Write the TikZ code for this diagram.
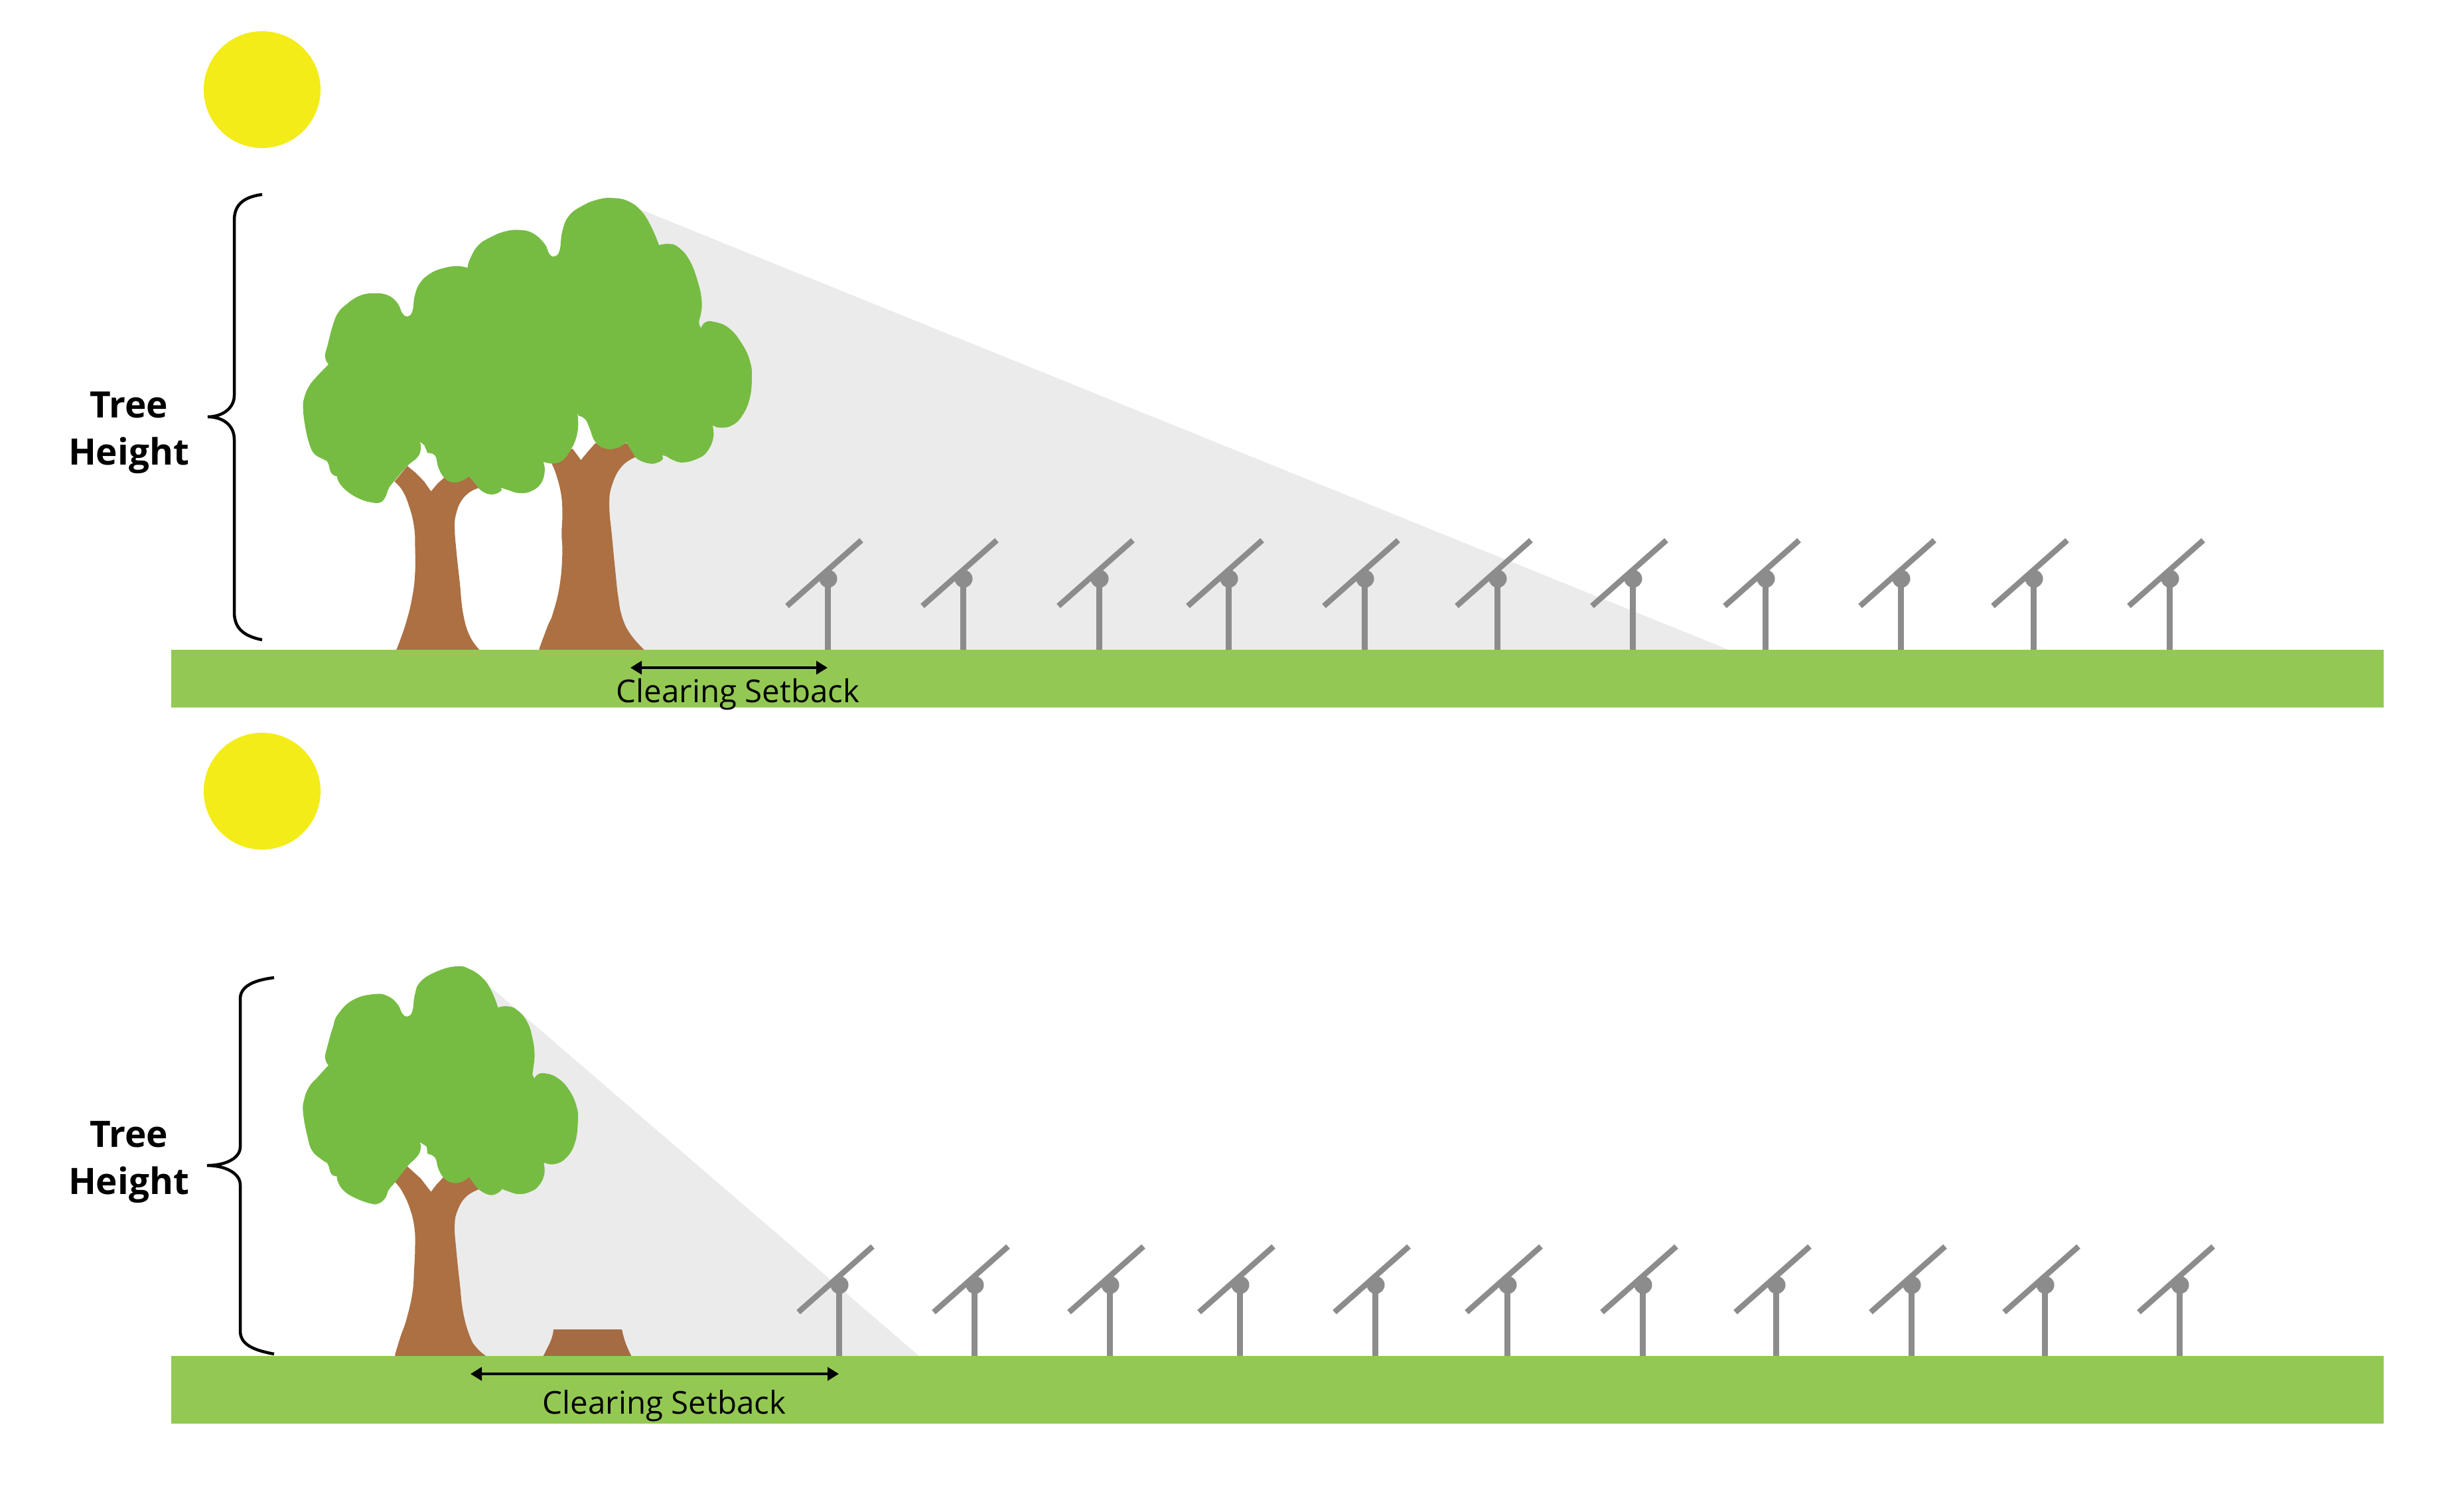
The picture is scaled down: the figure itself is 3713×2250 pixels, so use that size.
\documentclass[tikz,border=0pt]{standalone}
\usepackage{fontspec}
\setmainfont{Open Sans}
\usetikzlibrary{arrows.meta, positioning}

\definecolor{sungold}{HTML}{F3EC19}
\definecolor{leafgreen}{HTML}{76BC43}
\definecolor{lawngreen}{HTML}{93C953}
\definecolor{barkbrown}{HTML}{AC7043}
\definecolor{stumpbrown}{HTML}{A56B42}
\definecolor{shadowgray}{HTML}{EBEBEB}
\definecolor{rackgray}{HTML}{8C8C8C}

\tikzset{
	sunball/.style={circle, fill=sungold, minimum size=.01cm*176, inner sep=0pt},
	setbackarrow/.style={{Triangle[length=.17cm, width=.2cm]}-{Triangle[length=.17cm, width=.2cm]}, line width=.035cm},
	setbacklabel/.style={anchor=base, font=\fontsize{13.5}{15}\selectfont, inner sep=0pt},
	heightlabel/.style={align=center, font=\fontsize{15.6}{20.2}\selectfont\bfseries, inner sep=0pt},
	bracket/.style={line width=.045cm},
	outline/.style={smooth, tension=.75},
	tracker/.pic={
		\draw[rackgray, line width=.09cm] (0,0) -- (0,-107);
		\draw[rackgray, line width=.085cm] (-61,-66) -- (51,-165);
		\fill[rackgray] (1,-107) circle (13.5);
	}
}

\begin{document}
\begin{tikzpicture}[x=.01cm, y=-.01cm]
	\useasboundingbox (0,0) rectangle (3713,2250);

	% upper panel
	\node[sunball] (sunA) at (395,135) {};
	\fill[shadowgray] (961,314) -- (2605,979) -- (905,979) -- (905,600) -- cycle;
	\foreach \postx in {1247,1451,1656,1851,2056,2256,2460,2660,2864,3064,3269}
		\pic at (\postx,979) {tracker};
	\begin{scope}[shift={(420,270)}, x=.005102cm, y=-.00523cm]
		\fill[barkbrown] plot[outline] coordinates {(595,1356) (565,1315) (545,1250) (535,1160) (525,1070) (520,1000) (525,960) (540,925) (565,900) (592,888)}
			-- (563,855) -- (490,858) -- (470,875) -- (450,898) -- (430,870) -- (405,845) -- (380,825) -- (342,870)
			-- plot[outline] coordinates {(342,870) (365,895) (385,940) (400,1000) (403,1060) (403,1130) (395,1200) (375,1280) (347,1356)} -- cycle;
		\fill[barkbrown] plot[outline] coordinates {(1082,1356) (1040,1310) (1015,1260) (1003,1200) (995,1130) (985,1030) (977,940) (985,880) (1015,825) (1058,798)}
			-- (1030,760) -- (935,760) -- (915,782) -- (893,808) -- (868,775) -- (805,815)
			-- plot[outline] coordinates {(805,815) (820,850) (835,910) (838,970) (836,1020) (838,1080) (830,1170) (810,1250) (795,1285) (770,1350)} -- (770,1356) -- cycle;
		\fill[leafgreen] plot[outline] coordinates {(147,533) (137,510) (145,475) (160,420) (175,385) (200,360) (240,335) (285,328) (325,335) (352,358) (365,385) (380,395) (395,380) (402,335) (418,298) (450,270) (490,255) (530,250) (558,255)}
			-- plot[outline] coordinates {(558,255) (565,230) (590,190) (630,165) (670,150) (710,146) (750,155) (785,185) (800,215) (815,222) (830,205) (838,150) (858,105) (900,75) (945,58) (985,54) (1030,62) (1070,90) (1100,135) (1124,190)}
			-- plot[outline] coordinates {(1124,190) (1150,186) (1180,195) (1215,235) (1240,300) (1250,350) (1248,385) (1242,412) (1248,428)}
			-- plot[outline] coordinates {(1248,428) (1260,412) (1285,410) (1330,428) (1370,475) (1393,525) (1398,570) (1392,630) (1370,680) (1340,708) (1305,715) (1282,708)}
			-- plot[outline] coordinates {(1282,708) (1284,745) (1265,785) (1235,805) (1195,815) (1165,808) (1145,797) (1132,795)}
			-- plot[outline] coordinates {(1132,795) (1135,805) (1120,815) (1095,818) (1060,805) (1045,785) (1027,757)}
			-- plot[outline] coordinates {(1027,757) (1000,773) (965,775) (935,755) (918,715) (905,690) (885,680)}
			-- (880,660) -- plot[outline] coordinates {(880,660) (885,700) (880,740) (865,775) (840,808) (810,818) (782,813)}
			-- plot[outline] coordinates {(782,813) (786,840) (775,875) (745,898) (710,903) (680,895) (655,887)}
			-- plot[outline] coordinates {(655,887) (657,897) (630,907) (600,897) (580,875) (563,855)}
			-- plot[outline] coordinates {(563,855) (540,868) (515,872) (490,860) (472,830) (462,795) (440,788)}
			-- (430,765) -- (417,755)
			-- plot[outline] coordinates {(417,755) (420,775) (410,800) (380,825) (340,870) (325,890) (315,915) (300,930) (275,930) (240,920) (205,900) (180,875) (172,855)}
			-- plot[outline] coordinates {(172,855) (155,845) (145,815) (130,805) (105,790) (90,760) (78,710) (72,660) (75,630) (90,595) (115,565) (147,533)} -- cycle;
	\end{scope}
	\fill[lawngreen] (258,979) rectangle (3592,1066);
	\draw[bracket] (395,293) .. controls (365,297) and (353,310) .. (353,332) -- (353,596) .. controls (353,615) and (335,628) .. (313,628) .. controls (335,628) and (353,640) .. (353,662) -- (353,922) .. controls (353,945) and (365,958) .. (395,964);
	\node[heightlabel] (heightA) at (194,652) {Tree\\Height};
	\coordinate (setbackAl) at (950,1006);
	\coordinate (setbackAr) at (1247,1006);
	\draw[setbackarrow] (setbackAl) -- (setbackAr);
	\node[setbacklabel] (clearA) at (1112,1058) {Clearing Setback};

	% lower panel
	\node[sunball] (sunB) at (395,1192) {};
	\fill[shadowgray] (739,1487) -- (1385,2043) -- (675,2043) -- (675,1856) -- (690,1793) -- (690,1565) -- cycle;
	\foreach \postx in {1264,1468,1672,1868,2072,2271,2475,2676,2880,3081,3284}
		\pic at (\postx,2043) {tracker};
	\begin{scope}[shift={(420,1419)}, x=.005102cm, y=-.004847cm]
		\fill[stumpbrown] plot[outline] coordinates {(782,1285) (805,1235) (812,1203)} -- (1014,1203)
			-- plot[outline] coordinates {(1014,1203) (1025,1245) (1042,1285)} -- cycle;
		\fill[barkbrown] plot[outline] coordinates {(612,1285) (585,1260) (565,1225) (545,1150) (535,1060) (525,960) (520,880) (530,830) (555,790) (592,768)}
			-- (563,730) -- (487,730) -- (465,755) -- (450,776) -- (420,735) -- (380,697) -- (343,745)
			-- plot[outline] coordinates {(343,745) (362,770) (385,820) (400,880) (403,940) (400,1020) (395,1090) (378,1170) (360,1225) (344,1280)} -- (344,1285) -- cycle;
		\fill[leafgreen] plot[outline] coordinates {(147,383) (137,360) (145,320) (160,265) (175,225) (220,180) (285,162) (325,170) (352,195) (365,222) (380,232) (395,215) (402,165) (418,125) (465,93) (525,76) (565,85) (605,115) (630,155) (648,204)}
			-- plot[outline] coordinates {(648,204) (675,200) (705,212) (735,250) (750,300) (756,350) (752,395) (750,412) (756,424)}
			-- plot[outline] coordinates {(756,424) (765,412) (785,408) (820,420) (855,455) (880,510) (884,560) (875,625) (850,670) (815,690) (783,685)}
			-- plot[outline] coordinates {(783,685) (785,720) (770,755) (745,775) (710,783) (680,775) (655,765)}
			-- plot[outline] coordinates {(655,765) (657,772) (630,786) (600,775) (580,755) (563,730)}
			-- plot[outline] coordinates {(563,730) (540,745) (515,748) (490,735) (472,705) (462,670) (440,658)}
			-- (437,635) -- (417,622)
			-- plot[outline] coordinates {(417,622) (420,640) (410,665) (380,697) (345,745) (325,770) (315,795) (295,812) (270,812) (220,792) (190,770) (175,745) (172,728)}
			-- plot[outline] coordinates {(172,728) (155,720) (145,690) (130,678) (100,650) (85,605) (72,530) (75,490) (90,450) (115,420) (147,383)} -- cycle;
	\end{scope}
	\fill[lawngreen] (258,2043) rectangle (3592,2145);
	\draw[bracket] (413,1473) .. controls (380,1477) and (362,1487) .. (362,1505) -- (362,1728) .. controls (362,1745) and (340,1756) .. (312,1756) .. controls (340,1756) and (362,1768) .. (362,1785) -- (362,2005) .. controls (362,2025) and (380,2034) .. (413,2040);
	\node[heightlabel] (heightB) at (194,1751) {Tree\\Height};
	\coordinate (setbackBl) at (709,2070);
	\coordinate (setbackBr) at (1264,2070);
	\draw[setbackarrow] (setbackBl) -- (setbackBr);
	\node[setbacklabel] (clearB) at (1001,2130) {Clearing Setback};
\end{tikzpicture}
\end{document}
